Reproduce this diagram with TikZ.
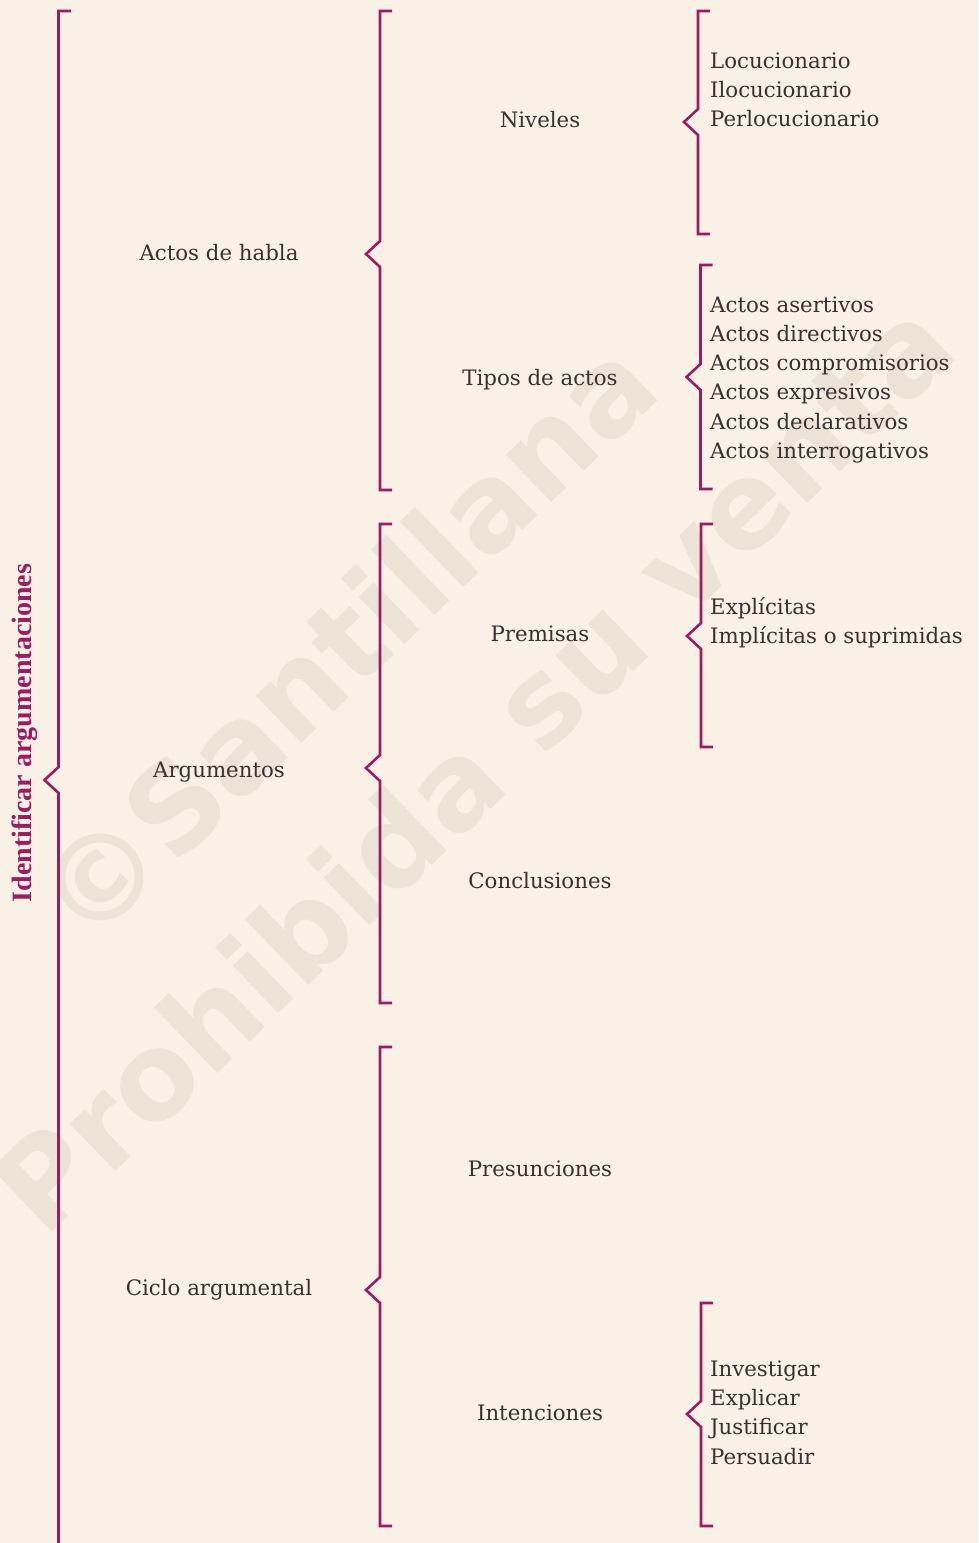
\documentclass[tikz,border=0pt]{standalone}
\usepackage{fontspec}
\setmainfont{DejaVu Serif}
\newfontfamily\titlefont{Liberation Serif}
\newfontfamily\wmfont{DejaVu Sans}
\definecolor{bg}{RGB}{249,241,229}
\definecolor{mag}{RGB}{158,27,98}
\definecolor{wm}{RGB}{236,227,215}
\definecolor{txt}{RGB}{55,49,49}
\newcommand\mybrace[6]{%
  \draw[brace] (#1+#6,#2) -- (#1,#2) -- (#1,#4-13) -- (#1-14,#4) -- (#1,#4+13) -- (#1,#3) -- (#1+#6,#3);}
\begin{document}
\begin{tikzpicture}[x=1pt,y=-1pt,
  brace/.style={draw=mag, line width=2.6pt, line join=miter},
  lbl/.style={text=txt, font=\fontsize{21.3}{25}\selectfont, inner sep=0pt, anchor=base},
  itm/.style={lbl, anchor=base west},
  wmtext/.style={text=wm, font=\wmfont\bfseries\fontsize{120}{124}\selectfont, inner sep=0pt, rotate=44}]
\useasboundingbox (0,0) rectangle (978,1543);
\clip (0,0) rectangle (978,1543);
\fill[bg] (0,0) rectangle (978,1543);
% watermark
\node[wmtext] (wm1) at (345,640) {©Santillana};
\node[wmtext] (wm2) at (472,765) {Prohibida su venta};
% title
\node[rotate=90, text=mag, inner sep=0pt, font=\titlefont\bfseries\fontsize{28}{30}\selectfont] (root) at (25,733) {Identificar argumentaciones};
% braces
\mybrace{58.5}{11}{1560}{780}{14}{12.5}
\mybrace{380}{11}{490}{254}{14}{12}
\mybrace{380}{524}{1003}{768}{14}{12}
\mybrace{380}{1047}{1526}{1290}{14}{12}
\mybrace{698}{11}{234}{122}{14}{12}
\mybrace{700.5}{265}{489}{377}{14}{12}
\mybrace{701}{524}{747}{636}{14}{12}
\mybrace{701}{1303}{1526}{1414}{14}{12}
% level 1
\node[lbl] (a1) at (219,260) {Actos de habla};
\node[lbl] (a2) at (219,777) {Argumentos};
\node[lbl] (a3) at (219,1295) {Ciclo argumental};
% level 2
\node[lbl] (b1) at (540,127) {Niveles};
\node[lbl] (b2) at (540,385) {Tipos de actos};
\node[lbl] (b3) at (540,641) {Premisas};
\node[lbl] (b4) at (540,888) {Conclusiones};
\node[lbl] (b5) at (540,1176) {Presunciones};
\node[lbl] (b6) at (540,1420) {Intenciones};
% level 3
\foreach \t [count=\i] in {Locucionario,Ilocucionario,Perlocucionario}
  \node[itm] (n\i) at (710,{68+(\i-1)*29.4}) {\t};
\foreach \t [count=\i] in {Actos asertivos,Actos directivos,Actos compromisorios,Actos expresivos,Actos declarativos,Actos interrogativos}
  \node[itm] (t\i) at (710,{312+(\i-1)*29.3}) {\t};
\foreach \t [count=\i] in {Explícitas,Implícitas o suprimidas}
  \node[itm] (p\i) at (710,{614+(\i-1)*29.5}) {\t};
\foreach \t [count=\i] in {Investigar,Explicar,Justificar,Persuadir}
  \node[itm] (i\i) at (710,{1376+(\i-1)*29.4}) {\t};
\end{tikzpicture}
\end{document}
